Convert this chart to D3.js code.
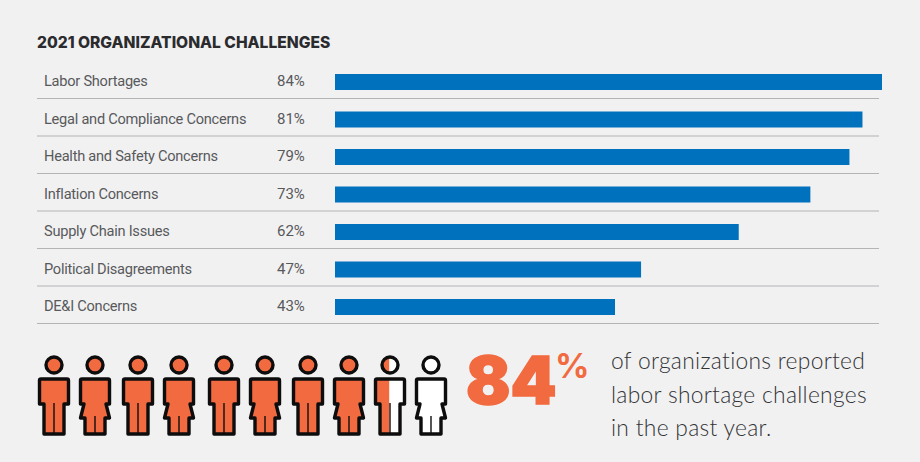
<!DOCTYPE html>
<html>
<head>
<meta charset="utf-8">
<script src="https://cdn.jsdelivr.net/npm/d3@7"></script>
<style>
html, body { margin: 0; padding: 0; background: #f1f1f2; }
svg { display: block; }
text { font-family: Roboto, sans-serif; font-variant-ligatures: none; }
</style>
</head>
<body>
<div id="chart"></div>
<script>
const categories = ["Labor Shortages", "Legal and Compliance Concerns", "Health and Safety Concerns",
    "Inflation Concerns", "Supply Chain Issues", "Political Disagreements", "DE&I Concerns"];
const values = [84, 81, 79, 73, 62, 47, 43];
const figureTypes = ["m", "w", "m", "w", "m", "w", "m", "w", "m", "w"];
const figureFill = [1, 1, 1, 1, 1, 1, 1, 1, 0.48, 0];
const headline = 84;
const captionLines = ["of organizations reported", "labor shortage challenges", "in the past year."];

const width = 920, height = 462;
const orange = "#f26a3f", blue = "#0071bc", ink = "#0d0d0d";

const svg = d3.select("#chart").append("svg").attr("width", width).attr("height", height);

svg.append("text").attr("x", 37).attr("y", 48)
    .style("font-family", "Inter, sans-serif")
    .attr("font-size", 15.6).attr("font-weight", 800).attr("fill", "#2b2b2d")
    .text("2021 ORGANIZATIONAL CHALLENGES");

// rows
const y = d3.scaleBand().domain(categories).range([61, 323.5]);
const x = d3.scaleLinear().domain([0, headline]).range([335, 882]);

const rows = svg.selectAll("g.row").data(categories).enter().append("g").attr("class", "row");

rows.append("line")
    .attr("x1", 37).attr("x2", 879)
    .attr("y1", d => y(d) + y.bandwidth()).attr("y2", d => y(d) + y.bandwidth())
    .attr("stroke", "#b4b4b6").attr("stroke-width", 1.2);

rows.append("text").attr("x", 44).attr("y", d => y(d) + 25)
    .attr("font-size", 14.6).attr("letter-spacing", -0.25).attr("fill", "#58595b").text(d => d);

rows.append("text").attr("x", 277).attr("y", (d) => y(d) + 25)
    .attr("font-size", 15).attr("fill", "#58595b").text((d, i) => values[i] + "%");

rows.append("rect").attr("x", x(0)).attr("y", d => y(d) + 13)
    .attr("width", (d, i) => x(values[i]) - x(0)).attr("height", 16)
    .attr("fill", blue);

// pictogram : 10 personnes, remplies selon figureFill
const iconX = [54, 95, 138, 179, 224, 265, 308, 349, 390, 431];
const manBody = "M-13,0H13Q14.5,0 14.5,1.5V25H10V55H-10V25H-14.5V1.5Q-14.5,0 -13,0Z";
const womanBody = "M-13,0H13Q14.5,0 14.5,1.5V25H11L14.5,39H10V55H-10V39H-14.5L-11,25H-14.5V1.5Q-14.5,0 -13,0Z";

const defs = svg.append("defs");
const icons = svg.selectAll("g.icon").data(figureTypes).enter().append("g")
    .attr("class", "icon")
    .attr("transform", (d, i) => `translate(${iconX[i]},379)`);

icons.each(function(type, i) {
    const g = d3.select(this);
    const body = type === "m" ? manBody : womanBody;
    const clipId = "fill-" + i;
    defs.append("clipPath").attr("id", clipId).append("rect")
        .attr("x", -20).attr("y", -30).attr("width", 40 * figureFill[i]).attr("height", 100);

    // fond blanc puis couleur coupee a la part remplie
    g.append("circle").attr("cy", -14).attr("r", 8).attr("fill", "#fff");
    g.append("path").attr("d", body).attr("fill", "#fff");
    const fillG = g.append("g").attr("clip-path", `url(#${clipId})`);
    fillG.append("circle").attr("cy", -14).attr("r", 8).attr("fill", orange);
    fillG.append("path").attr("d", body).attr("fill", orange);

    g.append("circle").attr("cy", -14).attr("r", 8)
        .attr("fill", "none").attr("stroke", ink).attr("stroke-width", 3.4);
    g.append("path").attr("d", body).attr("fill", "none")
        .attr("stroke", ink).attr("stroke-width", 3.4).attr("stroke-linejoin", "round");
    g.append("line").attr("x1", 0).attr("x2", 0)
        .attr("y1", type === "m" ? 24 : 37).attr("y2", 55)
        .attr("stroke", ink).attr("stroke-width", 1.4);
});

// chiffre cle
svg.append("text").attr("x", 466).attr("y", 404)
    .style("font-family", "Inter, sans-serif")
    .attr("font-size", 65.5).attr("font-weight", 900).attr("fill", orange)
    .attr("stroke", orange).attr("stroke-width", 1.6)
    .text(headline);
svg.append("text").attr("x", 555).attr("y", 378)
    .style("font-family", "Inter, sans-serif")
    .attr("font-size", 34).attr("font-weight", 700).attr("fill", orange)
    .text("%");

svg.selectAll("text.caption").data(captionLines).enter().append("text")
    .attr("class", "caption")
    .attr("x", 611).attr("y", (d, i) => 369 + i * 33.5)
    .style("font-family", "Lato, sans-serif")
    .attr("font-size", 22.8).attr("font-weight", 300).attr("letter-spacing", 0.3).attr("fill", "#333335")
    .text(d => d);
</script>
</body>
</html>
